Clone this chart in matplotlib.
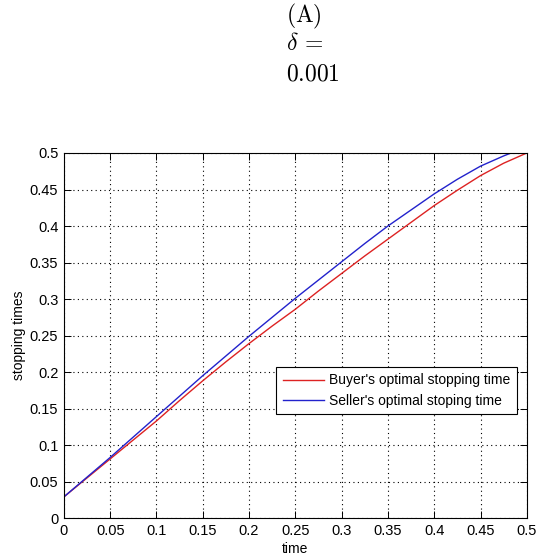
import matplotlib
matplotlib.use("Agg")
import matplotlib.pyplot as plt

# values
time = [0, 0.025, 0.05, 0.075, 0.1, 0.125, 0.15, 0.175, 0.2, 0.225, 0.25,
        0.275, 0.3, 0.325, 0.35, 0.375, 0.4, 0.425, 0.45, 0.475, 0.5]
buyer = [0.029, 0.055, 0.081, 0.107, 0.133, 0.161, 0.188, 0.214, 0.239, 0.263, 0.286,
         0.311, 0.335, 0.359, 0.382, 0.405, 0.428, 0.449, 0.469, 0.486, 0.5]
seller_time = [0, 0.025, 0.05, 0.075, 0.1, 0.125, 0.15, 0.175, 0.2, 0.225, 0.25,
               0.275, 0.3, 0.325, 0.35, 0.375, 0.4, 0.425, 0.45, 0.475, 0.483]
seller = [0.029, 0.056, 0.083, 0.111, 0.139, 0.167, 0.195, 0.222, 0.249, 0.275, 0.301,
          0.326, 0.351, 0.376, 0.400, 0.422, 0.444, 0.464, 0.482, 0.496, 0.5]

xticks = [0, 0.05, 0.1, 0.15, 0.2, 0.25, 0.3, 0.35, 0.4, 0.45, 0.5]
yticks = [0, 0.05, 0.1, 0.15, 0.2, 0.25, 0.3, 0.35, 0.4, 0.45, 0.5]
tick_labels = ['0', '0.05', '0.1', '0.15', '0.2', '0.25', '0.3', '0.35', '0.4', '0.45', '0.5']

plt.rcParams['font.family'] = ['Liberation Sans', 'DejaVu Sans']
plt.rcParams['mathtext.fontset'] = 'cm'

fig = plt.figure(figsize=(5.37, 5.59), dpi=100)
ax = fig.add_axes([0.119, 0.0733, 0.862, 0.653])

ax.plot(time, buyer, color='#dd2222', lw=1.0, label="Buyer's optimal stopping time")
ax.plot(seller_time, seller, color='#2222cc', lw=1.0, label="Seller's optimal stoping time")

ax.set_xlim(0, 0.5)
ax.set_ylim(0, 0.5)
ax.set_xticks(xticks)
ax.set_xticklabels(tick_labels)
ax.set_yticks(yticks)
ax.set_yticklabels(tick_labels)
ax.tick_params(direction='in', length=5, width=0.7, top=True, right=True,
               labelsize=10.5, pad=4)
ax.grid(True, color='black', linestyle=(0, (1, 3)), linewidth=0.8)
for s in ax.spines.values():
    s.set_linewidth(0.8)

ax.set_xlabel('time', fontsize=10, labelpad=3)
ax.set_ylabel('stopping times', fontsize=10, labelpad=3)

leg = ax.legend(loc='lower right', bbox_to_anchor=(0.978, 0.285), fontsize=10,
                fancybox=False, edgecolor='black', framealpha=1,
                handlelength=3.0, handletextpad=0.35, borderpad=0.45,
                labelspacing=0.45, borderaxespad=0)
leg.get_frame().set_linewidth(0.8)

# caption above the plot
fig.text(0.533, 0.970, r'$\mathrm{(A)}$', fontsize=17, va='center', ha='left')
fig.text(0.533, 0.922, r'$\delta\,=$', fontsize=17, va='center', ha='left')
fig.text(0.533, 0.867, r'$0.001$', fontsize=17, va='center', ha='left')

fig.savefig('out.png', dpi=100)
